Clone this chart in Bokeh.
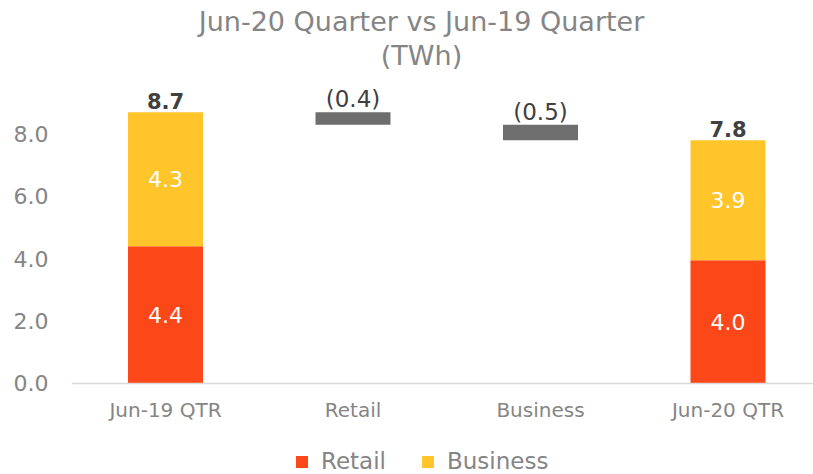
from bokeh.plotting import figure
from bokeh.models import (ColumnDataSource, Label, FixedTicker, Legend, LegendItem,
                          NumeralTickFormatter, Range1d)
from bokeh.embed import file_html
from bokeh.resources import INLINE
from bokeh.core.properties import value

# ---------------- data ----------------
categories = ["Jun-19 QTR", "Retail", "Business", "Jun-20 QTR"]
end_positions = [0, 3]          # index of the two quarter columns
retail_vals = [4.4, 3.95]
business_vals = [4.3, 3.85]
change_positions = [1, 2]       # index of the two bridge columns
change_vals = [-0.4, -0.5]
y_ticks = [0, 2, 4, 6, 8]
title_lines = ["Jun-20 Quarter vs Jun-19 Quarter", "(TWh)"]
series_names = ["Retail", "Business"]

# ---------------- styles ----------------
FONT = "DejaVu Sans"
RETAIL_C = "#FC4819"
BUSINESS_C = "#FFC52B"
BRIDGE_C = "#6E6E6E"
GRAY_TXT = "#858585"
DARK_TXT = "#404040"

# ---------------- derived sources ----------------
totals = [r + b for r, b in zip(retail_vals, business_vals)]
stack_src = ColumnDataSource(dict(
    x=end_positions,
    Retail=retail_vals,
    Business=business_vals,
    total=totals,
    total_lbl=[f"{t:.1f}" for t in totals],
    r_mid=[r / 2 for r in retail_vals],
    b_mid=[r + b / 2 for r, b in zip(retail_vals, business_vals)],
    r_lbl=[f"{r:.1f}" for r in retail_vals],
    b_lbl=[f"{b:.1f}" for b in business_vals],
))

running = totals[0]
br_top, br_bot = [], []
for c in change_vals:
    br_top.append(max(running, running + c))
    br_bot.append(min(running, running + c))
    running += c
bridge_src = ColumnDataSource(dict(
    x=change_positions, top=br_top, bottom=br_bot,
    lbl=[f"({abs(c):.1f})" if c < 0 else f"{c:.1f}" for c in change_vals],
))

# ---------------- figure ----------------
p = figure(width=813, height=474, x_range=Range1d(-0.5013, 3.456),
           y_range=Range1d(-2.918, 12.281), output_backend="svg",
           toolbar_location=None, title=None,
           min_border_left=71, min_border_right=0, min_border_top=0,
           min_border_bottom=0)
p.outline_line_color = None
p.xgrid.visible = False
p.ygrid.visible = False
p.background_fill_color = "white"
p.border_fill_color = "white"

stack_r = p.vbar_stack(series_names, x="x", width=0.4, source=stack_src,
                       color=[RETAIL_C, BUSINESS_C], line_color=None)
p.vbar(x="x", top="top", bottom="bottom", width=0.4, source=bridge_src,
       color=BRIDGE_C, line_color=None)

# labels inside segments
p.text(x="x", y="r_mid", text="r_lbl", source=stack_src, text_color="white",
       text_font=value(FONT), text_font_size="22px", text_align="center",
       text_baseline="middle")
p.text(x="x", y="b_mid", text="b_lbl", source=stack_src, text_color="white",
       text_font=value(FONT), text_font_size="22px", text_align="center",
       text_baseline="middle")
# totals
p.text(x="x", y="total", text="total_lbl", source=stack_src, text_color=DARK_TXT,
       text_font=value(FONT), text_font_size="21px", text_font_style="bold",
       text_align="center", text_baseline="alphabetic", y_offset=-11)
# bridge labels
p.text(x="x", y="top", text="lbl", source=bridge_src, text_color=DARK_TXT,
       text_font=value(FONT), text_font_size="23px",
       text_align="center", text_baseline="alphabetic", y_offset=-13)

# axes
xa = p.xaxis[0]
xa.fixed_location = 0
xa.ticker = FixedTicker(ticks=list(range(len(categories))))
xa.major_label_overrides = {i: c for i, c in enumerate(categories)}
xa.axis_line_color = "#D9D9D9"
xa.axis_line_width = 1.5
xa.major_tick_line_color = None
xa.minor_tick_line_color = None
xa.major_tick_out = 0
xa.major_tick_in = 0
xa.major_label_standoff = 15
xa.major_label_text_font = FONT
xa.major_label_text_font_size = "20px"
xa.major_label_text_color = GRAY_TXT

ya = p.yaxis[0]
ya.ticker = FixedTicker(ticks=y_ticks)
ya.formatter = NumeralTickFormatter(format="0.0")
ya.axis_line_color = None
ya.major_tick_line_color = None
ya.minor_tick_line_color = None
ya.major_tick_out = 0
ya.major_tick_in = 0
ya.major_label_standoff = 23
ya.major_label_text_font = FONT
ya.major_label_text_font_size = "22px"
ya.major_label_text_color = GRAY_TXT

# title (screen units measured from the plot frame's lower-left corner)
p.add_layout(Label(x=350, y=453, x_units="screen", y_units="screen",
                   text=title_lines[0], text_align="center", text_baseline="alphabetic",
                   text_font=FONT, text_font_size="27px", text_color=GRAY_TXT))
p.add_layout(Label(x=350, y=419, x_units="screen", y_units="screen",
                   text=title_lines[1], text_align="center", text_baseline="alphabetic",
                   text_font=FONT, text_font_size="27px", text_color=GRAY_TXT))

# legend
legend = Legend(items=[LegendItem(label=n, renderers=[r]) for n, r in zip(series_names, stack_r)],
                orientation="horizontal", location=(223, 0),
                glyph_width=15, glyph_height=15, label_standoff=12, spacing=34,
                padding=0, margin=0, border_line_color=None,
                background_fill_alpha=0,
                label_text_font=FONT, label_text_font_size="23px",
                label_text_color=GRAY_TXT)
p.add_layout(legend, "center")

open("out.html", "w").write(file_html(p, INLINE))
